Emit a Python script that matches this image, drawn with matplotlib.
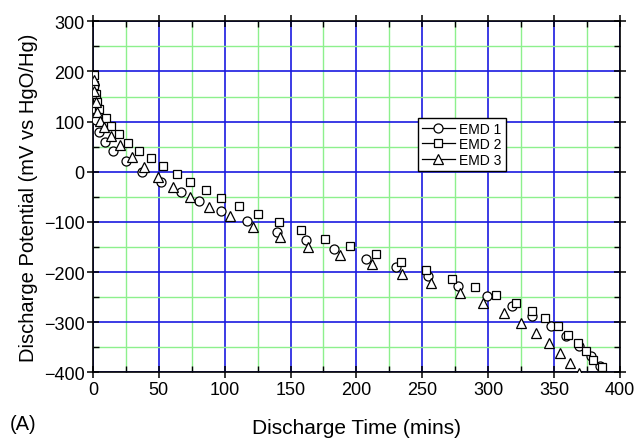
import matplotlib.pyplot as plt
from matplotlib.lines import Line2D
from matplotlib.ticker import MultipleLocator

plt.rcParams['font.family'] = ['Liberation Sans', 'DejaVu Sans']

# EMD 1 (circles)
emd1_t = [0.5, 1, 1.5, 2, 4.5, 9, 15.4, 24.8, 37.4, 52, 66.6, 80.7, 97, 117, 139.4,
          161.4, 183, 207, 230, 254, 277, 298.8, 317.8, 333.7, 347.4, 359, 369,
          377.8, 385]
emd1_v = [172, 148, 125, 104, 80, 60, 41, 21, 0, -20, -40, -59, -79, -99, -120,
          -137, -155, -174, -190, -208, -228, -248, -268, -288, -308, -328, -348,
          -368, -388]

# EMD 2 (squares)
emd2_t = [0.5, 1, 2, 3, 4.5, 9.9, 13.7, 20, 26.8, 34.9, 44, 53.4, 63.5, 74, 85.5,
          96.9, 110.5, 125, 141.4, 157.9, 176, 195, 214.8, 233.8, 252.7, 272.7,
          290, 306, 321, 333.4, 343.5, 352.7, 360.8, 367.9, 374, 380, 386.6]
emd2_v = [193, 172, 155, 140, 125, 108, 91, 75, 57, 42, 27, 11, -4, -20, -36,
          -53, -69, -85, -101, -117, -134, -149, -165, -180, -196, -214,
          -229, -246, -262, -277, -292, -308, -325, -341, -358, -375, -389]

# EMD 3 (triangles)
emd3_t = [0.5, 1, 2, 3, 5, 8, 14, 20.5, 29.8, 39, 49.6, 61, 74, 88.3, 104, 121.7,
          142, 163.4, 187.5, 211.5, 235, 257, 278.6, 296, 312, 325, 336.7, 346,
          354.5, 362, 369]
emd3_v = [182, 160, 140, 120, 102, 90, 72, 53, 30, 10, -10, -30, -50, -70, -88,
          -111, -131, -151, -167, -185, -204, -222, -242, -262, -282, -302, -322,
          -342, -362, -382, -401]

labels = ["EMD 1", "EMD 2", "EMD 3"]
markers = ["o", "s", "^"]
sizes = [6.5, 6, 6.8]

fig = plt.figure(figsize=(6.37, 4.39), dpi=100)
ax = fig.add_axes([0.146, 0.1497, 0.827, 0.7995])

ax.set_xlim(0, 400)
ax.set_ylim(-400, 300)
ax.xaxis.set_major_locator(MultipleLocator(50))
ax.xaxis.set_minor_locator(MultipleLocator(25))
ax.yaxis.set_major_locator(MultipleLocator(100))
ax.yaxis.set_minor_locator(MultipleLocator(50))

ax.grid(True, which='minor', color='#8df08d', lw=1.0, zorder=0)
ax.grid(True, which='major', color='#1a1ae0', lw=1.2, zorder=1)
ax.set_axisbelow(True)

for t, v, m, ms in zip([emd1_t, emd2_t, emd3_t], [emd1_v, emd2_v, emd3_v], markers, sizes):
    ax.plot(t, v, ls='none', marker=m, ms=ms,
            mfc='white', mec='black', mew=0.9, zorder=3)

for s in ax.spines.values():
    s.set_linewidth(1.2)

ax.tick_params(which='major', direction='inout', length=8, width=1.1,
               labelsize=13, top=True, right=True, pad=2)
ax.tick_params(which='minor', direction='in', length=4, width=1.0,
               top=True, right=True)

ax.set_xlabel("Discharge Time (mins)", fontsize=15, labelpad=15)
ax.set_ylabel("Discharge Potential (mV vs HgO/Hg)", fontsize=14.5, labelpad=4)
fig.text(0.016, 0.02, "(A)", fontsize=14.5)

handles = [Line2D([], [], color='black', lw=0.9, marker=m, ms=ms,
                  mfc='white', mec='black', mew=0.9) for m, ms in zip(markers, sizes)]
leg = ax.legend(handles, labels, loc='upper left', bbox_to_anchor=(0.603, 0.745),
                fontsize=10, frameon=True, fancybox=False, edgecolor='black',
                framealpha=1, handlelength=2.4, handletextpad=0.3,
                labelspacing=0.1, borderpad=0.3)
leg.get_frame().set_linewidth(1.0)

fig.savefig("out.png", dpi=100)
